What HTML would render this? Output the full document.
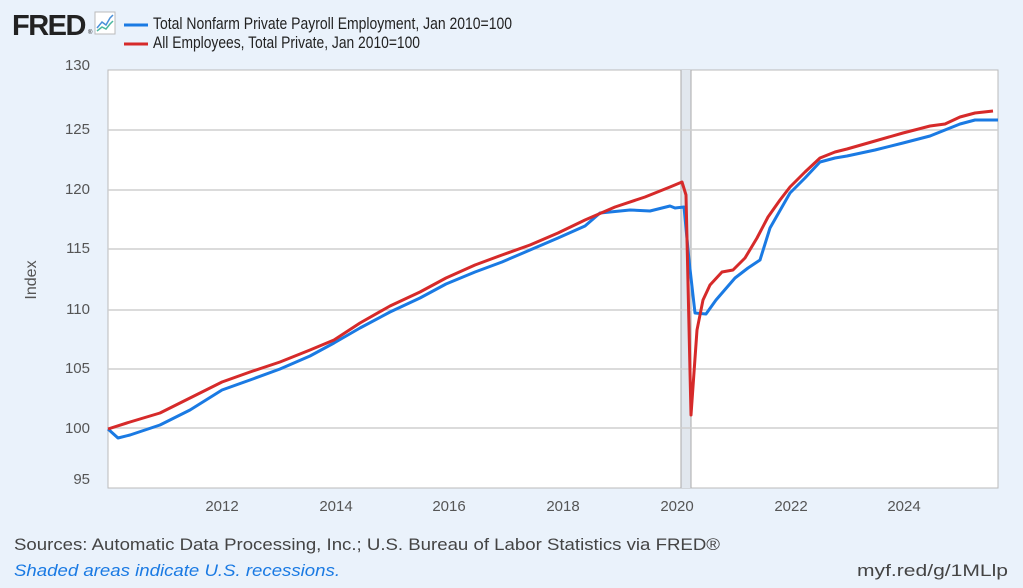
<!DOCTYPE html>
<html><head><meta charset="utf-8"><style>
body{margin:0;width:1023px;height:583px;background:#eaf2fb;font-family:"Liberation Sans",sans-serif;overflow:hidden}
</style></head><body>
<svg width="1023" height="583" xmlns="http://www.w3.org/2000/svg" font-family="Liberation Sans, sans-serif">
<rect width="1023" height="583" fill="#eaf2fb"/>
<text x="12" y="35" font-size="29" font-weight="bold" fill="#222" letter-spacing="-1.5">FRED</text>
<text x="88" y="34" font-size="6" fill="#222">®</text>
<rect x="95" y="12" width="20" height="22" fill="#fff" stroke="#bbb"/>
<polyline points="97,28 102,22 106,25 110,18 113,15" fill="none" stroke="#4a90d9" stroke-width="1.5"/>
<polyline points="97,31 102,27 106,29 110,24 113,21" fill="none" stroke="#4cb8a0" stroke-width="1.5"/>
<line x1="124" y1="25" x2="148" y2="25" stroke="#1a7ae3" stroke-width="3"/>
<line x1="124" y1="44" x2="148" y2="44" stroke="#d62a2a" stroke-width="3"/>
<text x="153" y="29" font-size="17" fill="#222" textLength="359" lengthAdjust="spacingAndGlyphs">Total Nonfarm Private Payroll Employment, Jan 2010=100</text>
<text x="153" y="48" font-size="17" fill="#222" textLength="267" lengthAdjust="spacingAndGlyphs">All Employees, Total Private, Jan 2010=100</text>
<rect x="108" y="70" width="890" height="418" fill="#fff" stroke="#bbb"/>
<rect x="681" y="70" width="10" height="418" fill="#e1e7ee"/>
<line x1="681" y1="70" x2="681" y2="488" stroke="#aaa"/>
<line x1="691" y1="70" x2="691" y2="488" stroke="#aaa"/>
<g stroke="#cfcfcf" stroke-width="1.5">
<line x1="108" y1="130" x2="998" y2="130"/><line x1="108" y1="190" x2="998" y2="190"/>
<line x1="108" y1="249" x2="998" y2="249"/><line x1="108" y1="310" x2="998" y2="310"/>
<line x1="108" y1="369" x2="998" y2="369"/><line x1="108" y1="428" x2="998" y2="428"/>
</g>
<g font-size="15" fill="#555" text-anchor="end">
<text x="90" y="70">130</text><text x="90" y="134">125</text><text x="90" y="194">120</text>
<text x="90" y="253">115</text><text x="90" y="314">110</text><text x="90" y="373">105</text>
<text x="90" y="433">100</text><text x="90" y="484">95</text>
</g>
<text transform="translate(36,280) rotate(-90)" font-size="16" fill="#555" text-anchor="middle">Index</text>
<g font-size="15" fill="#555" text-anchor="middle">
<text x="222" y="511">2012</text><text x="336" y="511">2014</text><text x="449" y="511">2016</text>
<text x="563" y="511">2018</text><text x="677" y="511">2020</text><text x="791" y="511">2022</text><text x="904" y="511">2024</text>
</g>
<polyline fill="none" stroke="#1a7ae3" stroke-width="3" stroke-linejoin="round" points="108,429 118,438 130,435 160,425 190,410 222,390 250,380 280,369 310,356 334,343 360,328 390,312 420,298 446,284 475,272 502,262 530,250 558,238 585,226 600,213 630,210 650,211 670,206 675,208 684,207 689,260 695,313 706,314 716,300 735,278 748,268 760,260 770,228 790,193 805,178 820,162 835,158 847,156 875,150 903,143 930,136 960,124 975,120 998,120"/>
<polyline fill="none" stroke="#d62a2a" stroke-width="3" stroke-linejoin="round" points="108,429 130,422 160,413 190,398 222,382 250,372 280,362 310,350 334,340 360,323 390,306 420,292 446,278 475,265 502,255 530,245 558,233 585,220 615,207 645,197 670,187 682,182 686,195 691,415 697,330 703,300 710,285 722,272 733,270 745,258 757,238 768,217 780,200 790,187 805,172 820,158 835,152 847,149 875,141 903,133 930,126 945,124 960,117 975,113 993,111"/>
<text x="14" y="550" font-size="17" fill="#444" textLength="706" lengthAdjust="spacingAndGlyphs">Sources: Automatic Data Processing, Inc.; U.S. Bureau of Labor Statistics via FRED®</text>
<text x="14" y="576" font-size="17" fill="#1a7ae3" font-style="italic" textLength="326" lengthAdjust="spacingAndGlyphs">Shaded areas indicate U.S. recessions.</text>
<text x="857" y="576" font-size="17" fill="#444" textLength="151" lengthAdjust="spacingAndGlyphs">myf.red/g/1MLlp</text>
</svg>
</body></html>
